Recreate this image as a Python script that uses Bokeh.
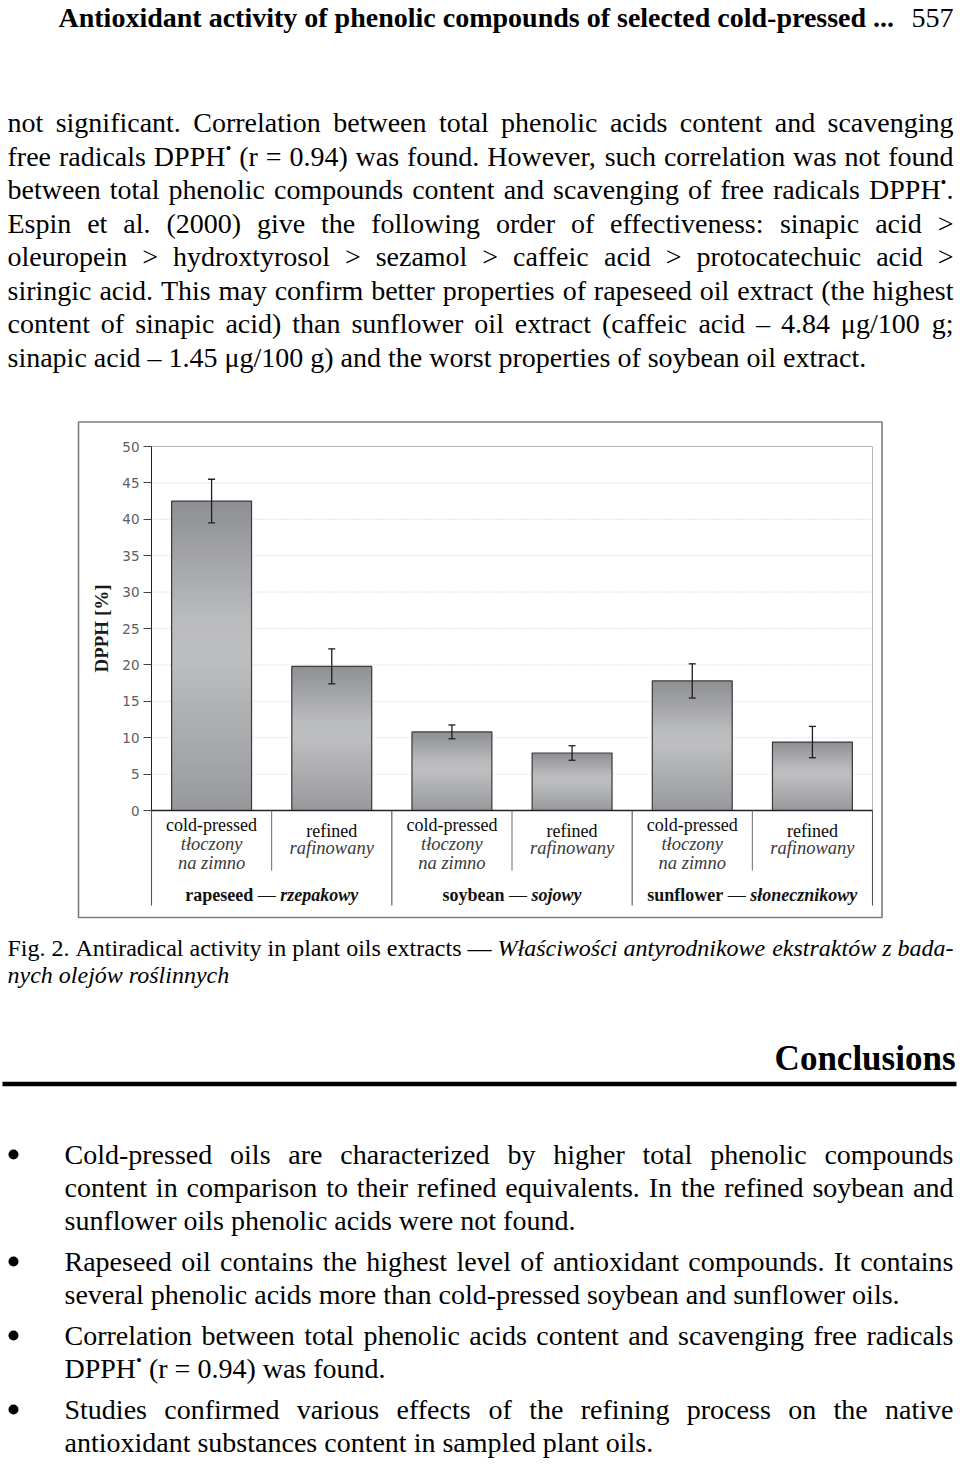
from collections import defaultdict
from bokeh.plotting import figure
from bokeh.models import Range1d, LinearAxis, FixedTicker, ColumnDataSource
from bokeh.core.properties import value
from bokeh.embed import file_html
from bokeh.resources import INLINE

# ---------------- chart data ----------------
OILS = ["rapeseed", "soybean", "sunflower"]
OILS_PL = ["rzepakowy", "sojowy", "słonecznikowy"]
PROCESSES = ["cold-pressed", "refined"]
PROCESSES_PL = [["tłoczony", "na zimno"], ["rafinowany"]]
DPPH = [42.5, 19.8, 10.8, 7.9, 17.8, 9.4]
DPPH_ERR = [3.0, 2.4, 0.95, 1.0, 2.35, 2.15]
Y_TICKS = [0, 5, 10, 15, 20, 25, 30, 35, 40, 45, 50]
Y_LABEL = "DPPH [%]"

# ---------------- page text ----------------
HEADER = "Antioxidant activity of phenolic compounds of selected cold-pressed ..."
PAGE_NO = "557"
PARAGRAPH = [
    "not significant. Correlation between total phenolic acids content and scavenging",
    "free radicals DPPH• (r = 0.94) was found. However, such correlation was not found",
    "between total phenolic compounds content and scavenging of free radicals DPPH•.",
    "Espin et al. (2000) give the following order of effectiveness: sinapic acid >",
    "oleuropein > hydroxtyrosol > sezamol > caffeic acid > protocatechuic acid >",
    "siringic acid. This may confirm better properties of rapeseed oil extract (the highest",
    "content of sinapic acid) than sunflower oil extract (caffeic acid – 4.84 μg/100 g;",
    "sinapic acid – 1.45 μg/100 g) and the worst properties of soybean oil extract.",
]
CAPTION = [
    [("Fig. 2. Antiradical activity in plant oils extracts —", "R"),
     ("Właściwości antyrodnikowe ekstraktów z bada-", "I")],
    [("nych olejów roślinnych", "I")],
]
CONCLUSIONS_TITLE = "Conclusions"
BULLETS = [
    ["Cold-pressed oils are characterized by higher total phenolic compounds",
     "content in comparison to their refined equivalents. In the refined soybean and",
     "sunflower oils phenolic acids were not found."],
    ["Rapeseed oil contains the highest level of antioxidant compounds. It contains",
     "several phenolic acids more than cold-pressed soybean and sunflower oils."],
    ["Correlation between total phenolic acids content and scavenging free radicals",
     "DPPH• (r = 0.94) was found."],
    ["Studies confirmed various effects of the refining process on the native",
     "antioxidant substances content in sampled plant oils."],
]

# ---------------- font metrics (Times / Liberation Serif, 1/1000 em) ----------------
LOWER = "abcdefghijklmnopqrstuvwxyz"
UPPER = "ABCDEFGHIJKLMNOPQRSTUVWXYZ"
PUNCT = {" ": 250, ".": 250, ",": 250, "(": 333, ")": 333, ">": 564, "=": 564, "–": 500,
         "—": 1000, "μ": 576, "/": 278, ";": 278, ":": 278, "-": 333, "•": 350, "%": 833,
         "[": 333, "]": 333}
for d in "0123456789":
    PUNCT[d] = 500


def _tbl(lw, uw):
    t = dict(PUNCT)
    t.update(dict(zip(LOWER, lw)))
    t.update(dict(zip(UPPER, uw)))
    return t


FACES = {
    "R": _tbl([444, 500, 444, 500, 444, 333, 500, 500, 278, 278, 500, 278, 778, 500, 500, 500, 500, 333, 389, 278, 500, 500, 722, 500, 500, 444],
              [722, 667, 667, 722, 611, 556, 722, 722, 333, 389, 722, 611, 889, 722, 722, 556, 722, 667, 556, 611, 722, 722, 944, 722, 722, 611]),
    "I": _tbl([500, 500, 444, 500, 444, 278, 500, 500, 278, 278, 444, 278, 722, 500, 500, 500, 500, 389, 389, 278, 500, 444, 667, 444, 444, 389],
              [611, 611, 667, 722, 611, 611, 722, 722, 333, 444, 667, 556, 833, 667, 722, 611, 722, 611, 500, 556, 722, 611, 833, 611, 556, 556]),
    "B": _tbl([500, 556, 444, 556, 444, 333, 500, 556, 278, 333, 556, 278, 833, 556, 500, 556, 556, 444, 389, 333, 556, 500, 722, 500, 500, 444],
              [722, 667, 722, 722, 667, 611, 778, 778, 389, 500, 778, 667, 944, 722, 778, 611, 778, 722, 556, 667, 722, 722, 1000, 722, 722, 667]),
    "BI": _tbl([500, 500, 444, 500, 444, 333, 500, 556, 278, 278, 500, 278, 778, 556, 500, 500, 500, 389, 389, 278, 556, 444, 667, 500, 444, 389],
               [667, 667, 667, 722, 667, 667, 722, 778, 389, 500, 667, 611, 889, 722, 722, 611, 722, 667, 556, 611, 722, 667, 889, 667, 611, 611]),
}
ACCENTS = {"ł": "l", "ś": "s", "ó": "o", "ż": "z", "ć": "c", "ą": "a", "ę": "e", "ń": "n", "Ł": "L", "Ś": "S"}
STYLE = {"R": "normal", "I": "italic", "B": "bold", "BI": "bold italic"}
SERIF = "Liberation Serif"
SUP_SCALE, SUP_RISE = 0.6, 0.38
BASE_FIX = 0.30   # renderer draws 'alphabetic' text this many em lower; compensate


def tw(s, face, size):
    t = FACES[face]
    return sum(t.get(ACCENTS.get(c, c), 500) for c in s) * size / 1000.0


def seg_w(t, f, size):
    if f == "SUP":
        return tw(t, "R", size * SUP_SCALE)
    return tw(t, f, size)


# ---------------- figure (page coordinates = canvas pixels) ----------------
W, H = 960, 1465

p = figure(width=W, height=H, x_range=Range1d(0, W), y_range=Range1d(H, 0),
           x_axis_type=None, y_axis_type=None, output_backend="svg", toolbar_location=None,
           min_border=0, outline_line_color=None, background_fill_color="white",
           border_fill_color="white")

# chart geometry (pixels on the page)
PLOT_L, PLOT_R = 151, 872
Y0_PX, YTOP_PX = 810, 446
n = len(DPPH)
PPX = (PLOT_R - PLOT_L) / n
PPY = (Y0_PX - YTOP_PX) / Y_TICKS[-1]
p.extra_x_ranges = {"c": Range1d(-PLOT_L / PPX, n + (W - PLOT_R) / PPX)}
p.extra_y_ranges = {"c": Range1d(-(H - Y0_PX) / PPY, Y0_PX / PPY)}
C = dict(x_range_name="c", y_range_name="c")


def cy(py):
    return (Y0_PX - py) / PPY


# ---------------- text collection ----------------
TXT = defaultdict(lambda: dict(x=[], y=[], text=[], xo=[]))


def put(x, y, s, face, size, color="#000000", align="left", rng="page", xo=0.0):
    """y is the wanted baseline in page pixels."""
    yb = y - BASE_FIX * size
    d = TXT[(face, size, color, align, rng)]
    d["x"].append(x)
    d["y"].append(cy(yb) if rng == "c" else yb)
    d["text"].append(s)
    d["xo"].append(xo)


def words_of(chunks):
    out = []
    for text, face in chunks:
        for w in text.split(" "):
            if not w:
                continue
            segs, buf = [], ""
            for ch in w:
                if ch == "•":
                    if buf:
                        segs.append((buf, face))
                        buf = ""
                    segs.append(("•", "SUP"))
                else:
                    buf += ch
            if buf:
                segs.append((buf, face))
            out.append(segs)
    return out


def set_line(chunks, y, x0, x1, size, justify, color="#000000"):
    ws = words_of(chunks)
    wid = [sum(seg_w(t, f, size) for t, f in w) for w in ws]
    sp = tw(" ", "R", size)
    gap = (x1 - x0 - sum(wid)) / (len(ws) - 1) if (justify and len(ws) > 1) else sp
    items = []
    x = x0
    for w, ww in zip(ws, wid):
        xs = x
        for j, (t, f) in enumerate(w):
            new_word = j == 0
            if (not justify and items and items[-1][2] == f and f != "SUP"):
                items[-1][1] += (" " if new_word else "") + t
            else:
                items.append([xs, t, f])
            xs += seg_w(t, f, size)
        x += ww + gap
    for xs, t, f in items:
        if f == "SUP":
            ss = round(size * SUP_SCALE, 1)
            put(xs, y - SUP_RISE * size, t, "R", ss, color)
        else:
            put(xs, y, t, f, size, color)


# ---------------- page text ----------------
BODY = 28
put(58, 25.5, HEADER, "B", BODY)
put(953, 25.5, PAGE_NO, "R", BODY, align="right")

LEFT, RIGHT = 7, 953
for i, line in enumerate(PARAGRAPH):
    set_line([(line, "R")], 130.5 + 33.5 * i, LEFT, RIGHT, BODY, i < len(PARAGRAPH) - 1)

CAP = 24
for i, chunks in enumerate(CAPTION):
    set_line(chunks, 955 + 26.5 * i, LEFT, RIGHT, CAP, i < len(CAPTION) - 1)

put(955, 1068, CONCLUSIONS_TITLE, "B", 35, align="right")
p.segment(x0=[2], x1=[956], y0=[1083.5], y1=[1083.5], line_color="#000000", line_width=4.5)

yb = 1162
dots_x, dots_y = [], []
for bullet in BULLETS:
    dots_x.append(13)
    dots_y.append(yb - 8)
    for j, line in enumerate(bullet):
        set_line([(line, "R")], yb, 64, RIGHT, BODY, j < len(bullet) - 1)
        yb += 33
    yb += 8
p.scatter(x=dots_x, y=dots_y, marker="circle", size=10, fill_color="#000000", line_color=None)

# ---------------- chart ----------------
# outer chart border
p.quad(left=[78], right=[881.5], top=[421.5], bottom=[917], fill_color=None,
       line_color="#7c7c7c", line_width=1.6)

# dotted gridlines
gy = Y_TICKS[1:-1]
p.segment(x0=[0] * len(gy), x1=[n] * len(gy), y0=gy, y1=gy, line_color="#c6c6c6",
          line_dash="1 2", line_width=1, **C)
# plot-area border (top, right)
p.segment(x0=[0, n], x1=[n, n], y0=[Y_TICKS[-1]] * 2, y1=[Y_TICKS[-1], 0],
          line_color="#b4b4b4", line_width=1, **C)

# bars with a vertical metallic gradient
PROFILE = [(0.0, (0x96, 0x97, 0x9a)), (0.12, (0xa1, 0xa2, 0xa5)), (0.3, (0xae, 0xaf, 0xb1)),
           (0.5, (0xbd, 0xbe, 0xc0)), (0.62, (0xba, 0xbb, 0xbd)), (0.8, (0xa5, 0xa6, 0xa9)),
           (1.0, (0x8d, 0x8f, 0x93))]


def shade(t):
    for (t0, c0), (t1, c1) in zip(PROFILE[:-1], PROFILE[1:]):
        if t0 <= t <= t1:
            a = (t - t0) / (t1 - t0)
            return "#%02x%02x%02x" % tuple(int(round(u + (v - u) * a)) for u, v in zip(c0, c1))
    return "#%02x%02x%02x" % PROFILE[-1][1]


K = 48
BAR_W = 0.665
xs = [i + 0.5 for i in range(n)]
qs = dict(left=[], right=[], bottom=[], top=[], color=[])
for x, v in zip(xs, DPPH):
    for k in range(K):
        qs["left"].append(x - BAR_W / 2)
        qs["right"].append(x + BAR_W / 2)
        qs["bottom"].append(v * k / K)
        qs["top"].append(min(v, v * (k + 1.6) / K))
        qs["color"].append(shade((k + 0.5) / K))
p.quad(left="left", right="right", bottom="bottom", top="top", fill_color="color",
       line_color=None, source=ColumnDataSource(qs), **C)
p.vbar(x=xs, top=DPPH, bottom=0, width=BAR_W, fill_color=None, line_color="#3a3a3a",
       line_width=1.2, **C)

# error bars
up = [v + e for v, e in zip(DPPH, DPPH_ERR)]
lo = [v - e for v, e in zip(DPPH, DPPH_ERR)]
p.segment(x0=xs, x1=xs, y0=lo, y1=up, line_color="#1e1e1e", line_width=1.3, **C)
cap = 3.5 / PPX
p.segment(x0=[x - cap for x in xs] * 2, x1=[x + cap for x in xs] * 2, y0=up + lo, y1=up + lo,
          line_color="#1e1e1e", line_width=1.3, **C)

# category axis line and separators
p.segment(x0=[0], x1=[n], y0=[0], y1=[0], line_color="#222222", line_width=1.3, **C)
npg = len(PROCESSES)
long_x = [j for j in range(n + 1) if j % npg == 0]
short_x = [j for j in range(n + 1) if j % npg != 0]
p.segment(x0=long_x, x1=long_x, y0=[0] * len(long_x), y1=[cy(905)] * len(long_x),
          line_color="#555555", line_width=1.1, **C)
p.segment(x0=short_x, x1=short_x, y0=[0] * len(short_x), y1=[cy(870)] * len(short_x),
          line_color="#6a6a6a", line_width=1.0, **C)

# category labels
LABEL_Y = {3: [830, 849.5, 868], 2: [835.5, 853.5]}
for gi in range(len(OILS)):
    for pi, (proc, pl) in enumerate(zip(PROCESSES, PROCESSES_PL)):
        xc = gi * npg + pi + 0.5
        ys = LABEL_Y[1 + len(pl)]
        put(xc, ys[0], proc, "R", 18, "#0a0a0a", "center", "c")
        for k, t in enumerate(pl):
            put(xc, ys[k + 1], t, "I", 18.5, "#3a3a3a", "center", "c")

# group labels: "name — nazwa"
GS = 18
for gi, (en, pl) in enumerate(zip(OILS, OILS_PL)):
    segs = [(en, "B"), (" — ", "R"), (pl, "BI")]
    tot = sum(tw(t, f, GS) for t, f in segs)
    off = -tot / 2
    for t, f in segs:
        put(gi * npg + npg / 2, 900, t.strip() if f == "R" else t, f, GS, "#111111",
            "center" if f == "R" else "left", "c",
            off + (tw(t, f, GS) / 2 if f == "R" else 0))
        off += tw(t, f, GS)

# y axis
yax = LinearAxis(x_range_name="c", y_range_name="c", fixed_location=0,
                 bounds=(Y_TICKS[0], Y_TICKS[-1]), ticker=FixedTicker(ticks=Y_TICKS))
yax.axis_label = Y_LABEL
yax.axis_label_text_font = SERIF
yax.axis_label_text_font_style = "bold"
yax.axis_label_text_font_size = "19px"
yax.axis_label_text_color = "#1a1a1a"
yax.axis_label_standoff = 7
yax.major_label_text_font = "DejaVu Sans"
yax.major_label_text_font_size = "13.5px"
yax.major_label_text_color = "#5e5e5e"
yax.major_label_standoff = 4
yax.major_tick_out = 8
yax.major_tick_in = 0
yax.minor_tick_out = 0
yax.minor_tick_in = 0
yax.axis_line_color = "#222222"
yax.major_tick_line_color = "#444444"
p.add_layout(yax, "left")

# ---------------- render collected text ----------------
for (face, size, color, align, rng), d in TXT.items():
    extra = C if rng == "c" else {}
    p.text(x="x", y="y", text="text", x_offset="xo", source=ColumnDataSource(d),
           text_font=value(SERIF), text_font_size=value(f"{size}px"),
           text_font_style=STYLE[face], text_color=color, text_align=align,
           text_baseline="alphabetic", **extra)

open("out.html", "w").write(file_html(p, INLINE))
